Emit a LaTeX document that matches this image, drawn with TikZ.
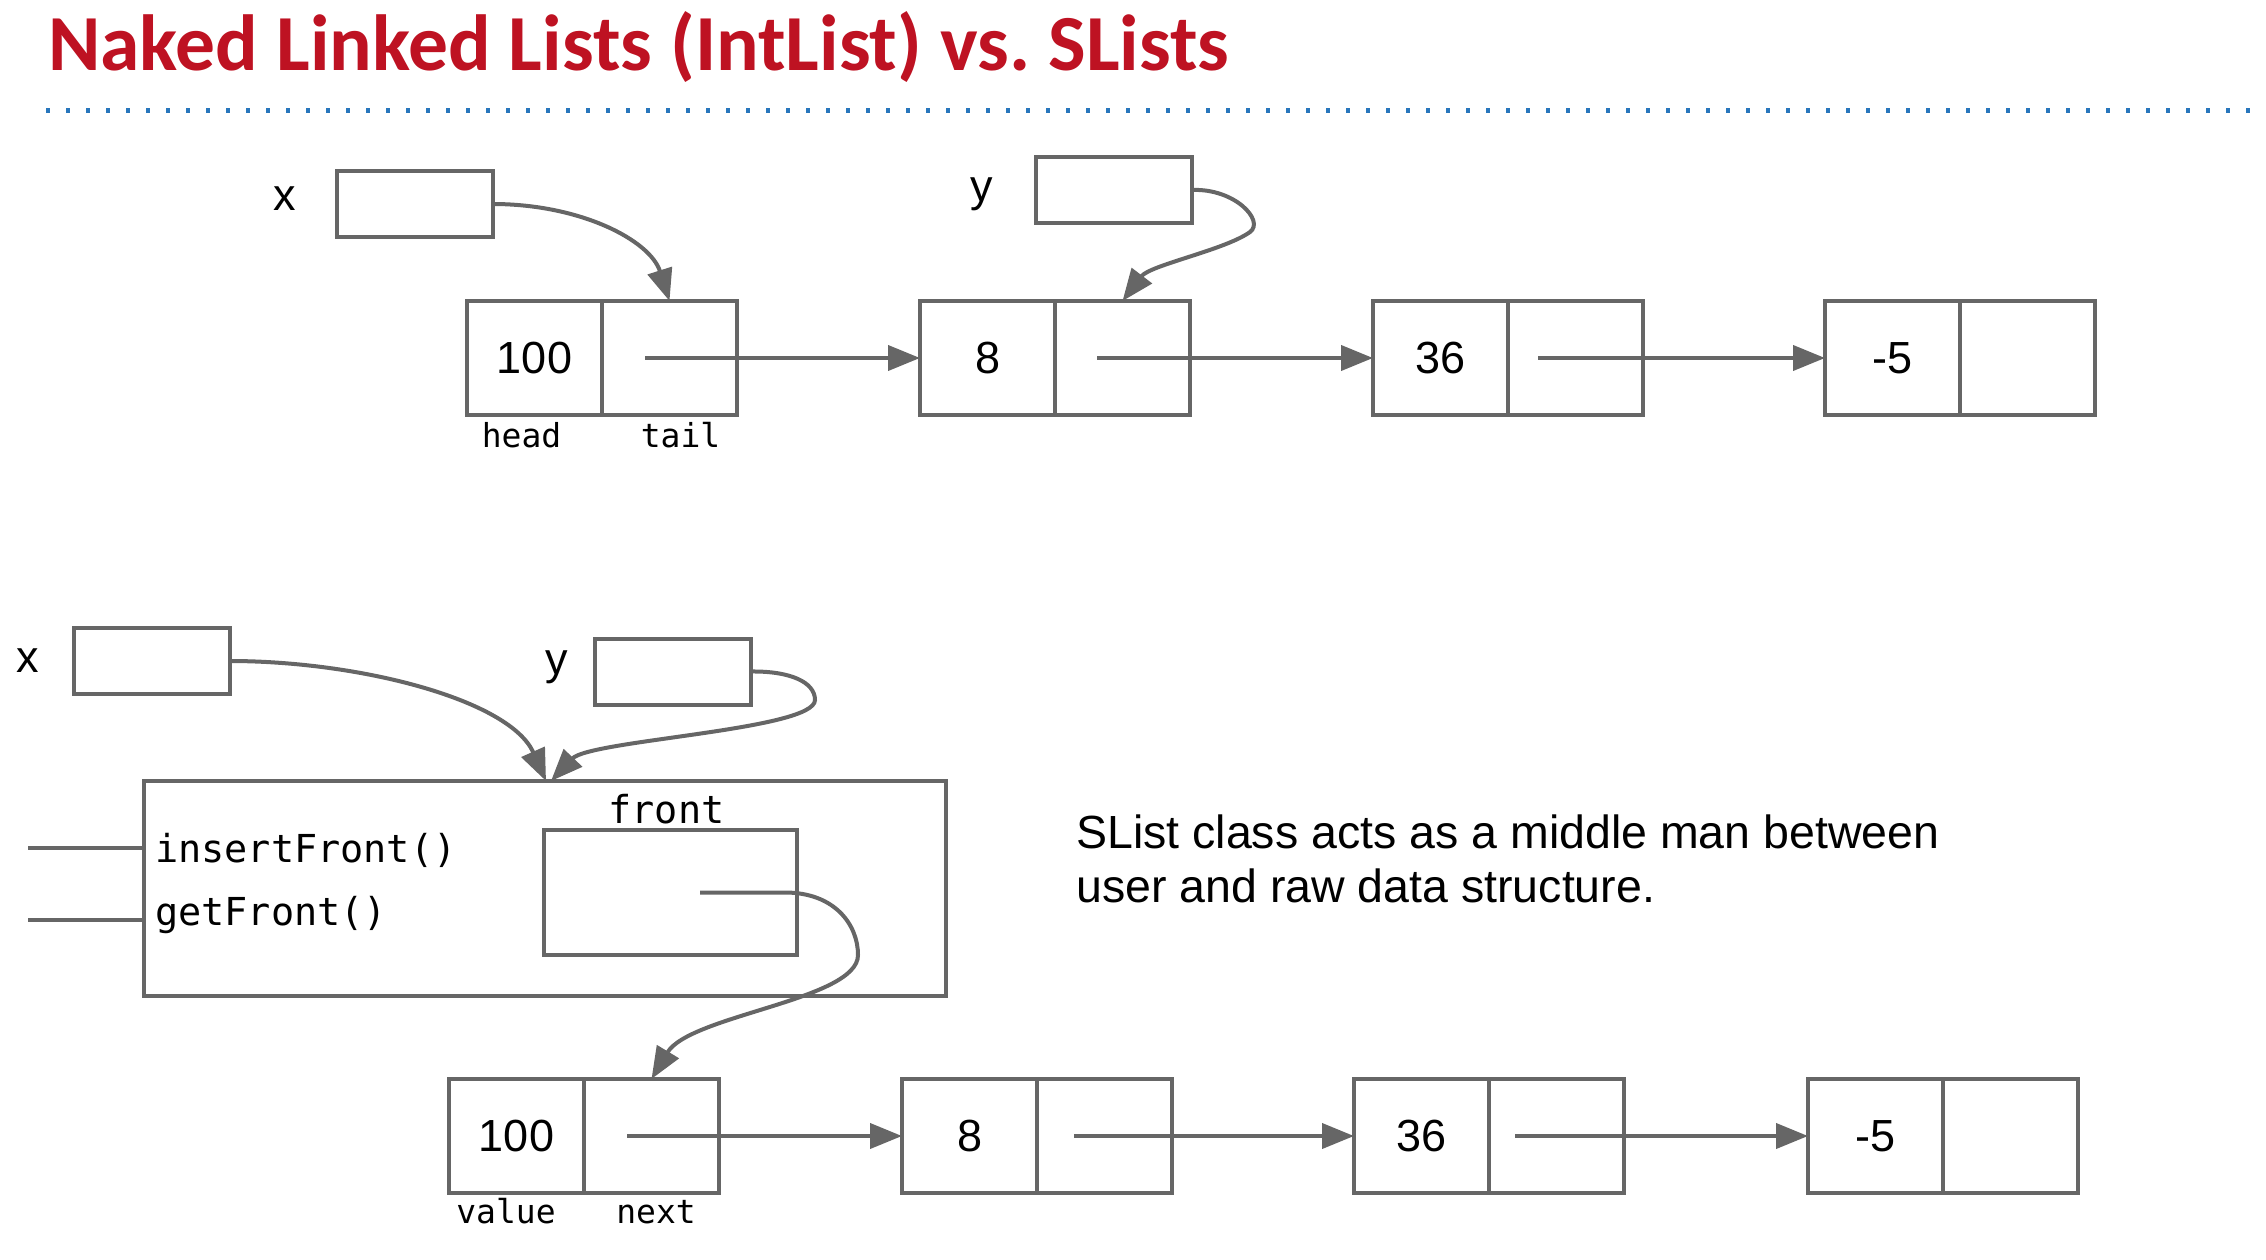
\documentclass[tikz,border=0pt]{standalone}
\usepackage{fontspec}
\setmainfont{Liberation Sans}
\newfontfamily\titlefont{Carlito}
\newfontfamily\codefont{DejaVu Sans Mono}
\usetikzlibrary{arrows.meta,calc}
\definecolor{linegray}{RGB}{102,102,102}
\definecolor{titlered}{RGB}{190,18,34}
\definecolor{dotblue}{RGB}{40,118,188}
\newcommand{\mklistnode}[4]{%
  \node[cell] (#1v) at (#2,#3) {#4};
  \node[cell,anchor=west] (#1p) at (#1v.east) {};
}
\frenchspacing
\begin{document}
\begin{tikzpicture}[x=1pt,y=-1pt,
  cell/.style={draw=linegray,line width=4pt,minimum width=135pt,minimum height=114pt,inner sep=0pt,outer sep=0pt,font=\fontsize{45pt}{54pt}\selectfont},
  ptrbox/.style={draw=linegray,line width=4pt,minimum width=156pt,minimum height=66pt,inner sep=0pt,outer sep=0pt},
  bigbox/.style={draw=linegray,line width=4pt,inner sep=0pt,outer sep=0pt},
  arr/.style={draw=linegray,line width=4pt,-{Triangle[length=32pt,width=25pt]}},
  plainline/.style={draw=linegray,line width=4pt},
  varlabel/.style={anchor=base,inner sep=0pt,font=\fontsize{45pt}{54pt}\selectfont},
  fieldlabel/.style={anchor=base,inner sep=0pt,font=\codefont\fontsize{33pt}{40pt}\selectfont},
  methodlabel/.style={anchor=base west,inner sep=0pt,font=\codefont\fontsize{38.5pt}{46pt}\selectfont},
  desc/.style={anchor=base west,inner sep=0pt,font=\fontsize{46.5pt}{56pt}\selectfont},
]
\useasboundingbox (0,0) rectangle (2266,1260);

% title and rule
\node[anchor=base west,inner sep=0pt,text=titlered,font=\titlefont\bfseries\fontsize{79.5pt}{90pt}\selectfont] (title) at (48,71) {Naked Linked Lists (IntList) vs. SLists};
\coordinate (dl) at (46,111);
\coordinate (dr) at (2252,111);
\draw[dotblue,line width=5pt,dash pattern=on 4pt off 16pt] (dl) -- (dr);

% ---------- top: naked linked list ----------
\node[ptrbox] (tx) at (414.5,204) {};
\node[varlabel] (txl) at (285,211) {x};
\node[ptrbox] (ty) at (1113.5,190) {};
\node[varlabel] (tyl) at (981.5,201) {y};

\mklistnode{t1}{534.5}{358}{100}
\mklistnode{t2}{987.5}{358}{8}
\mklistnode{t3}{1440.5}{358}{36}
\mklistnode{t4}{1892.5}{358}{-5}

\node[fieldlabel] (thead) at ($(t1v.south)+(-13,32)$) {head};
\node[fieldlabel] (ttail) at ($(t1p.south)+(11,32)$) {tail};

\coordinate (t1s) at ($(t1p.west)+(43,0)$);
\coordinate (t2s) at ($(t2p.west)+(42,0)$);
\coordinate (t3s) at ($(t3p.west)+(30,0)$);
\draw[arr] (t1s) -- (t2v.west);
\draw[arr] (t2s) -- (t3v.west);
\draw[arr] (t3s) -- (t4v.west);

\draw[arr] (tx.east) .. controls (580,204) and (650,240) .. (t1p.north);
\draw[arr] (ty.east) .. controls (1235,188) and (1265,221) .. (1250,232)
                     .. controls (1225,250) and (1150,265) .. (t2p.north);

% ---------- bottom: SList ----------
\node[ptrbox] (bx) at (151.5,661) {};
\node[varlabel] (bxl) at (28,672) {x};
\node[ptrbox] (by) at (673,671.5) {};
\node[varlabel] (byl) at (556.5,674) {y};

\node[bigbox,minimum width=802pt,minimum height=215pt] (slist) at (545,888.5) {};
\node[bigbox,minimum width=253pt,minimum height=125pt] (front) at (670.5,892.5) {};
\node[anchor=base,inner sep=0pt,font=\codefont\fontsize{38.5pt}{46pt}\selectfont] (frontl) at ($(front.north)+(-4,-7)$) {front};
\node[methodlabel] (ins) at (155,862) {insertFront()};
\node[methodlabel] (get) at (155,925) {getFront()};
\coordinate (insl) at (28,848);
\coordinate (getl) at (28,920);
\draw[plainline] (insl) -- (insl -| slist.west);
\draw[plainline] (getl) -- (getl -| slist.west);

\mklistnode{b1}{516.5}{1136}{100}
\mklistnode{b2}{969.5}{1136}{8}
\mklistnode{b3}{1421.5}{1136}{36}
\mklistnode{b4}{1875.5}{1136}{-5}

\node[fieldlabel] (bval) at ($(b1v.south)+(-10.5,30)$) {value};
\node[fieldlabel] (bnext) at ($(b1p.south)+(4.5,30)$) {next};

\coordinate (b1s) at ($(b1p.west)+(43,0)$);
\coordinate (b2s) at ($(b2p.west)+(37,0)$);
\coordinate (b3s) at ($(b3p.west)+(26,0)$);
\draw[arr] (b1s) -- (b2v.west);
\draw[arr] (b2s) -- (b3v.west);
\draw[arr] (b3s) -- (b4v.west);

\coordinate (sxt) at ($(slist.north west)+(402,0)$);
\coordinate (syt) at ($(slist.north west)+(407,0)$);
\draw[arr] (bx.east) .. controls (360,661) and (510,700) .. (sxt);
\draw[arr] (by.east) .. controls (790,671) and (815,682) .. (815,700)
                     .. controls (815,730) and (590,740) .. (syt);

\coordinate (fs) at ($(front.west)+(156,0)$);
\draw[arr] (fs) -- (785,892.5) .. controls (835,892.5) and (858,925) .. (858,955)
           .. controls (858,1000) and (690,1015) .. (b1p.north);

\node[desc] (d1) at (1076,848) {SList class acts as a middle man between};
\node[desc] (d2) at (1076,902) {user and raw data structure.};
\end{tikzpicture}
\end{document}
